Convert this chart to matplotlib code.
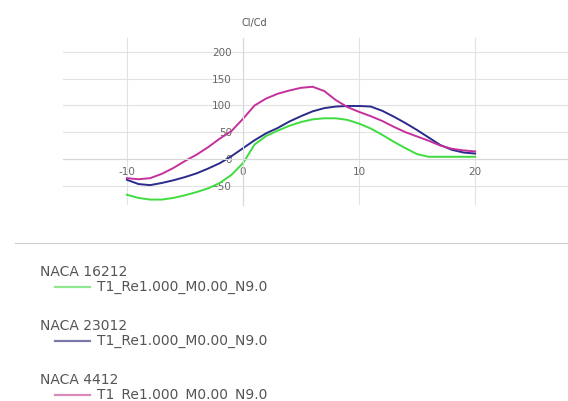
import matplotlib
matplotlib.use("Agg")
import matplotlib.pyplot as plt
from matplotlib.lines import Line2D
import matplotlib.transforms as mtransforms

# angle of attack (deg)
alpha = list(range(-10, 21))

cl_cd_16212 = [-67, -73, -76, -76, -73, -68, -62, -55, -45, -30, -8, 27, 43, 53, 62, 69,
               74, 76, 76, 73, 66, 57, 45, 32, 20, 9, 4, 4, 4, 4, 4]
cl_cd_23012 = [-39, -47, -49, -45, -40, -34, -27, -18, -8, 5, 20, 35, 48, 58, 70, 80,
               89, 95, 98, 99, 99, 98, 90, 79, 67, 54, 40, 26, 17, 12, 10]
cl_cd_4412 = [-36, -38, -36, -28, -17, -4, 8, 22, 38, 52, 75, 100, 113, 122, 128, 133,
              135, 127, 110, 97, 88, 80, 71, 60, 50, 42, 34, 25, 19, 16, 14]

names = ["NACA 16212", "NACA 23012", "NACA 4412"]
run_label = "T1_Re1.000_M0.00_N9.0"
colors = ["#3fdc3f", "#2b2b8c", "#c4309c"]
legend_colors = ["#8fe88f", "#7a7aaa", "#d98ab8"]
xticks = [-10, 0, 10, 20]
yticks = [-50, 0, 50, 100, 150, 200]

fig = plt.figure(figsize=(5.68, 4.01), dpi=100)
ax = fig.add_axes([0.111, 0.489, 0.889, 0.416])

for ys, c in zip([cl_cd_16212, cl_cd_23012, cl_cd_4412], colors):
    ax.plot(alpha, ys, color=c, lw=1.4)

ax.set_xlim(-15.5, 28)
ax.set_ylim(-86, 226)
ax.set_xticks(xticks)
ax.set_yticks(yticks)
ax.set_xticklabels([str(t).replace("-", "-") for t in xticks])
ax.grid(True, color="#e2e2e2", lw=0.8)
ax.set_axisbelow(True)

for s in ["top", "right"]:
    ax.spines[s].set_visible(False)
ax.spines["left"].set_position("zero")
ax.spines["bottom"].set_position("zero")
ax.spines["left"].set_color("#d8d8d8")
ax.spines["bottom"].set_color("#d8d8d8")
ax.tick_params(length=0, labelsize=7.5, labelcolor="#666666")
ax.tick_params(axis="x", pad=6)
ax.tick_params(axis="y", pad=8)

trans = mtransforms.blended_transform_factory(ax.transData, ax.transAxes)
ax.text(1, 1.06, "Cl/Cd", transform=trans, ha="center", va="bottom",
        fontsize=7, color="#555555")

# separator line between plot and legend
fig.add_artist(Line2D([15 / 568, 1], [1 - 243 / 401] * 2, color="#cccccc", lw=0.8))

# legend block
for i, (name, c) in enumerate(zip(names, legend_colors)):
    y0 = 1 - (272 + i * 54) / 401
    fig.text(40 / 568, y0, name, fontsize=10, color="#555555", va="center")
    y1 = y0 - 15 / 401
    fig.add_artist(Line2D([55 / 568, 90 / 568], [y1, y1], color=c, lw=1.6))
    fig.text(97 / 568, y1, run_label, fontsize=10, color="#555555", va="center")

fig.savefig("out.png", dpi=100)
